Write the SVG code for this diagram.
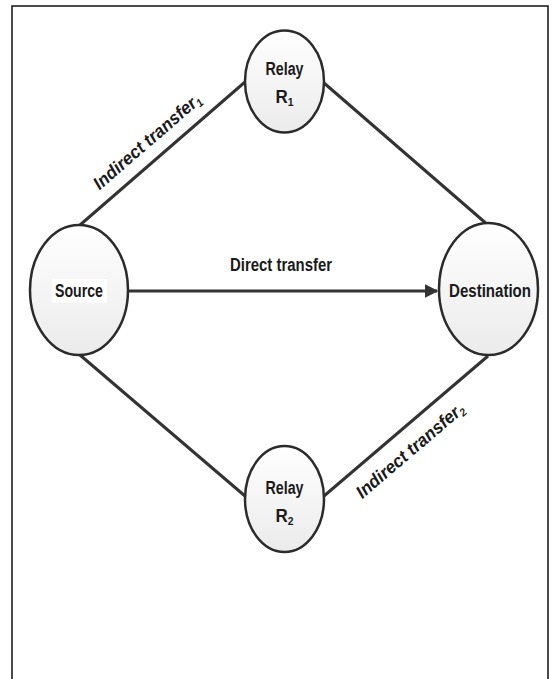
<svg xmlns="http://www.w3.org/2000/svg" width="556" height="679" viewBox="0 0 556 679">
  <style>
    .node { stroke: #2b2b2b; stroke-width: 2.5; fill: url(#nodeFill); }
    .link { stroke: #333; stroke-width: 3; fill: none; }
    .lbl { font-family: "Liberation Sans", Arial, sans-serif; font-weight: bold; font-size: 18px; fill: #1a1a1a; text-anchor: middle; }
    .it { font-style: italic; }
    .sub { font-size: 11px; }
  </style>
  <defs>
    <linearGradient id="nodeFill" x1="0" y1="0" x2="0" y2="1">
      <stop offset="0" stop-color="#ffffff"/>
      <stop offset="1" stop-color="#ebebeb"/>
    </linearGradient>
    <marker id="arrow" viewBox="0 0 10 10" refX="9" refY="5" markerWidth="4.5" markerHeight="4.5" orient="auto" markerUnits="strokeWidth">
      <path d="M0,0 L10,5 L0,10 z" fill="#333"/>
    </marker>
  </defs>

  <rect x="12" y="6" width="536" height="690" fill="#fff" stroke="#111" stroke-width="1.5"/>

  <g id="connectors">
    <line class="link" x1="80" y1="225" x2="245" y2="82"/>
    <line class="link" x1="324" y1="83" x2="488" y2="225"/>
    <line class="link" x1="80" y1="355" x2="245" y2="496"/>
    <line class="link" x1="324" y1="496" x2="488" y2="356"/>
    <line class="link" x1="129" y1="291" x2="437" y2="291" marker-end="url(#arrow)"/>
    <text class="lbl" x="281" y="271" textLength="102" lengthAdjust="spacingAndGlyphs">Direct transfer</text>
    <text class="lbl it" transform="translate(151,146) rotate(-40.9)" x="0" y="0" textLength="136" lengthAdjust="spacingAndGlyphs">Indirect transfer<tspan class="sub" dy="3">1</tspan></text>
    <text class="lbl it" transform="translate(414,455) rotate(-40.5)" x="0" y="0" textLength="136" lengthAdjust="spacingAndGlyphs">Indirect transfer<tspan class="sub" dy="3">2</tspan></text>
  </g>

  <g id="relay1">
    <ellipse class="node" cx="284.5" cy="81.5" rx="39.5" ry="51"/>
    <text class="lbl" x="284.5" y="75" textLength="38" lengthAdjust="spacingAndGlyphs">Relay</text>
    <text class="lbl" x="284.5" y="103" textLength="18" lengthAdjust="spacingAndGlyphs">R<tspan class="sub" dy="3">1</tspan></text>
  </g>

  <g id="source">
    <ellipse class="node" cx="79" cy="290" rx="49" ry="65"/>
    <rect x="52" y="279" width="55" height="24" fill="#fff"/>
    <text class="lbl" x="79" y="297" textLength="48" lengthAdjust="spacingAndGlyphs">Source</text>
  </g>

  <g id="destination">
    <ellipse class="node" cx="488.5" cy="289" rx="49.5" ry="66"/>
    <text class="lbl" x="490" y="297" textLength="82" lengthAdjust="spacingAndGlyphs">Destination</text>
  </g>

  <g id="relay2">
    <ellipse class="node" cx="284.5" cy="499" rx="39.5" ry="53"/>
    <text class="lbl" x="284.5" y="494" textLength="38" lengthAdjust="spacingAndGlyphs">Relay</text>
    <text class="lbl" x="284.5" y="522" textLength="18" lengthAdjust="spacingAndGlyphs">R<tspan class="sub" dy="3">2</tspan></text>
  </g>
</svg>
